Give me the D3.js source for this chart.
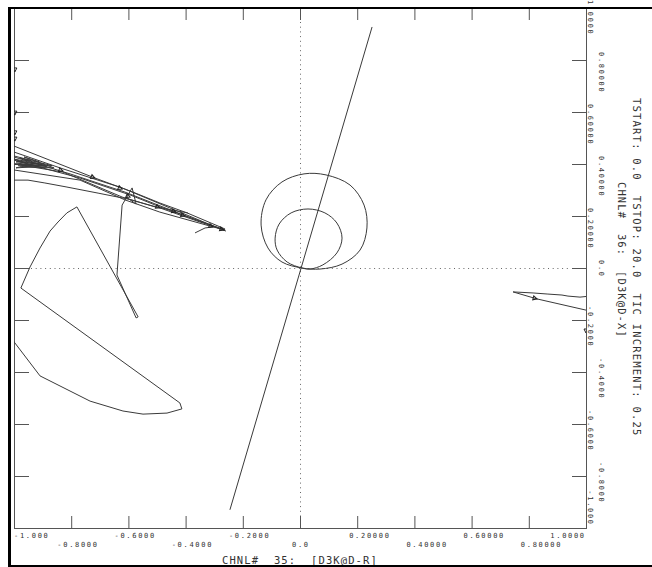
<!DOCTYPE html>
<html lang="en">
<head>
<meta charset="UTF-8">
<title>CHNL 35 vs CHNL 36</title>
<script src="https://d3js.org/d3.v7.min.js"></script>
<style>
    body { margin: 0; background: #fff; }
    text { font-family: "DejaVu Sans Mono", monospace; fill: #333; white-space: pre; }
</style>
</head>
<body>
<div id="chart"></div>
<script>
// tick values and their printed labels
var xTicks = [-1.0, -0.8, -0.6, -0.4, -0.2, 0.0, 0.2, 0.4, 0.6, 0.8, 1.0];
var xTickLabels = ["-1.000", "-0.8000", "-0.6000", "-0.4000", "-0.2000", "0.0",
                   "0.20000", "0.40000", "0.60000", "0.80000", "1.0000"];
var yTicks = [1.0, 0.8, 0.6, 0.4, 0.2, 0.0, -0.2, -0.4, -0.6, -0.8, -1.0];
var yTickLabels = ["1.0000", "0.80000", "0.60000", "0.40000", "0.20000", "0.0",
                   "-0.2000", "-0.4000", "-0.6000", "-0.8000", "-1.000"];

var xTitle = "CHNL#  35:  [D3K@D-R]";
var yTitle = "CHNL#  36:  [D3K@D-X]";
var runInfo = "TSTART: 0.0  TSTOP: 20.0  TIC INCREMENT: 0.25";

// traces, [x, y] in data units
var straightLine = [[-0.245, -0.930], [0.252, 0.927]];

var bigLoop = [[0.007, 0.0], [-0.063, 0.023], [-0.112, 0.077], [-0.136, 0.165], [-0.119, 0.262],
               [-0.063, 0.331], [0.014, 0.362], [0.091, 0.358], [0.175, 0.319], [0.224, 0.242],
               [0.234, 0.154], [0.210, 0.069], [0.147, 0.015], [0.070, -0.004]];

var smallLoop = [[0.007, 0.0], [-0.045, 0.023], [-0.080, 0.069], [-0.087, 0.115], [-0.073, 0.169],
                 [-0.031, 0.212], [0.028, 0.227], [0.087, 0.212], [0.129, 0.173], [0.147, 0.115],
                 [0.129, 0.058], [0.080, 0.012], [0.035, -0.004]];

var leftShape = [[-1.014, -0.262], [-0.997, -0.288], [-0.909, -0.415], [-0.734, -0.512],
                 [-0.619, -0.550], [-0.549, -0.562], [-0.465, -0.558], [-0.413, -0.542],
                 [-0.420, -0.519], [-0.976, -0.077], [-0.944, 0.004], [-0.909, 0.077],
                 [-0.874, 0.142], [-0.846, 0.177], [-0.815, 0.212], [-0.780, 0.235],
                 [-0.566, -0.188], [-0.573, -0.192], [-0.640, -0.027], [-0.622, 0.242],
                 [-0.587, 0.308], [-0.573, 0.246], [-0.608, 0.273]];

var bundle1 = [[-1.03, 0.48], [-1.0, 0.469], [-0.717, 0.346], [-0.584, 0.292], [-0.490, 0.250], [-0.395, 0.212], [-0.262, 0.150]];
var bundle2 = [[-1.03, 0.456], [-1.0, 0.446], [-0.839, 0.385], [-0.622, 0.308], [-0.455, 0.231], [-0.304, 0.162], [-0.266, 0.146]];
var bundle3 = [[-1.03, 0.436], [-1.0, 0.427], [-0.804, 0.362], [-0.612, 0.292], [-0.434, 0.215], [-0.259, 0.142]];
var bundle4 = [[-1.03, 0.424], [-1.0, 0.415], [-0.874, 0.377], [-0.769, 0.346], [-0.594, 0.281], [-0.490, 0.235], [-0.262, 0.146]];
var bundle5 = [[-1.03, 0.406], [-1.0, 0.400], [-0.829, 0.369], [-0.622, 0.273], [-0.507, 0.235], [-0.392, 0.212]];
var bundle6 = [[-1.03, 0.384], [-1.0, 0.377], [-0.769, 0.338], [-0.612, 0.262], [-0.490, 0.215], [-0.304, 0.158]];
var bundle7 = [[-1.03, 0.338], [-1.0, 0.338], [-0.951, 0.338], [-0.892, 0.327], [-0.818, 0.312], [-0.706, 0.288],
               [-0.601, 0.265], [-0.490, 0.231], [-0.350, 0.177], [-0.262, 0.146]];
var hook = [[-0.367, 0.135], [-0.332, 0.154], [-0.304, 0.158], [-0.262, 0.146]];
var scribble = [[-1.0, 0.431], [-0.944, 0.415], [-0.993, 0.408], [-0.902, 0.400], [-0.986, 0.396],
                [-0.885, 0.392], [-0.979, 0.423], [-0.867, 0.394], [-0.993, 0.385], [-0.930, 0.404],
                [-1.0, 0.419], [-0.958, 0.404], [-0.997, 0.400], [-0.920, 0.392], [-0.990, 0.412],
                [-0.895, 0.396], [-0.972, 0.389], [-0.860, 0.385], [-0.965, 0.427], [-0.910, 0.408]];

var rightShape = [[1.014, -0.108], [0.979, -0.112], [0.937, -0.108], [0.916, -0.104], [0.864, -0.100],
                  [0.815, -0.096], [0.745, -0.092], [0.829, -0.119], [1.0, -0.162], [1.021, -0.165]];

// arrowheads: x, y, direction (deg, screen)
var arrows = [[-0.717, 0.346, 22], [-0.829, 0.373, 18], [-0.622, 0.304, 22], [-0.594, 0.273, 22],
              [-0.490, 0.231, 22], [-0.434, 0.215, 20], [-0.304, 0.158, 20], [-0.266, 0.146, 18],
              [-0.402, 0.200, 20], [-0.997, 0.754, 90], [-0.997, 0.588, 90], [-0.997, 0.512, 90],
              [-0.997, 0.488, 90], [0.829, -0.119, 15], [1.0, -0.250, 90]];

var traces = [straightLine, bigLoop, smallLoop, leftShape, bundle1, bundle2, bundle3, bundle4,
              bundle5, bundle6, bundle7, hook, scribble, rightShape];
var closedTraces = [bigLoop, smallLoop];

var W = 652, H = 567;
var plotL = 14, plotR = 586, plotT = 8, plotB = 528;

var svg = d3.select("#chart").append("svg")
    .attr("width", W)
    .attr("height", H);

var x = d3.scaleLinear().domain([-1, 1]).range([plotL, plotR]);
var y = d3.scaleLinear().domain([-1, 1]).range([plotB, plotT]);

svg.append("clipPath").attr("id", "plotclip")
    .append("rect")
    .attr("x", plotL).attr("y", plotT)
    .attr("width", plotR - plotL).attr("height", plotB - plotT);

// zero lines, dotted
svg.append("line")
    .attr("x1", x(0) + 0.5).attr("x2", x(0) + 0.5)
    .attr("y1", plotT + 14).attr("y2", plotB - 12)
    .attr("stroke", "#666").attr("stroke-width", 1)
    .attr("stroke-dasharray", "1,3.7");
svg.append("line")
    .attr("x1", plotL + 17).attr("x2", plotR - 15)
    .attr("y1", y(0) + 0.5).attr("y2", y(0) + 0.5)
    .attr("stroke", "#666").attr("stroke-width", 1)
    .attr("stroke-dasharray", "1,3.7");

// axes: ticks pointing inward on all four sides
var axisColor = "#555";
svg.append("g").attr("transform", "translate(0," + plotB + ")")
    .call(d3.axisTop(x).tickValues(xTicks).tickSize(12).tickFormat(""));
svg.append("g").attr("transform", "translate(0," + plotT + ")")
    .call(d3.axisBottom(x).tickValues(xTicks).tickSize(12).tickFormat(""));
svg.append("g").attr("transform", "translate(" + plotL + ",0)")
    .call(d3.axisRight(y).tickValues(yTicks).tickSize(15).tickFormat(""));
svg.append("g").attr("transform", "translate(" + plotR + ",0)")
    .call(d3.axisLeft(y).tickValues(yTicks).tickSize(14).tickFormat(""));
svg.selectAll(".domain, .tick line")
    .attr("stroke", axisColor)
    .attr("stroke-width", 1);
svg.selectAll(".domain").remove();
svg.append("rect")
    .attr("x", plotL + 0.5).attr("y", plotT + 0.5)
    .attr("width", plotR - plotL).attr("height", plotB - plotT)
    .attr("fill", "none").attr("stroke", axisColor);

// traces
var plot = svg.append("g").attr("clip-path", "url(#plotclip)");
var line = d3.line()
    .x(function(d) { return x(d[0]); })
    .y(function(d) { return y(d[1]); });
var loop = d3.line()
    .x(function(d) { return x(d[0]); })
    .y(function(d) { return y(d[1]); })
    .curve(d3.curveCatmullRomClosed);

traces.forEach(function(t) {
    plot.append("path")
        .datum(t)
        .attr("d", closedTraces.indexOf(t) >= 0 ? loop : line)
        .attr("fill", "none")
        .attr("stroke", "#3a3a3a")
        .attr("stroke-width", 1);
});

plot.selectAll(".arrow")
    .data(arrows)
    .enter().append("path")
    .attr("class", "arrow")
    .attr("d", "M-4,-2L0,0L-4,2Z")
    .attr("transform", function(d) {
        return "translate(" + x(d[0]) + "," + y(d[1]) + ") rotate(" + d[2] + ")";
    })
    .attr("fill", "none")
    .attr("stroke", "#222")
    .attr("stroke-width", 1);

// tick labels, decimal point lined up with the tick, staggered in two rows
var pitch = 5.9, glyphW = 4.2;
function labelStart(pos, s, lo, hi) {
    var start = pos - (s.indexOf(".") * pitch + glyphW / 2);
    var len = (s.length - 1) * pitch + glyphW;
    if (start < lo) start = lo;
    if (start + len > hi) start = hi - len;
    return start;
}

svg.selectAll(".xlab")
    .data(xTicks)
    .enter().append("text")
    .attr("class", "xlab")
    .attr("x", function(d, i) { return labelStart(x(d), xTickLabels[i], plotL, plotR - 2); })
    .attr("y", function(d, i) { return i % 2 === 0 ? 538 : 547; })
    .style("font-size", "7px")
    .style("letter-spacing", "1.7px")
    .text(function(d, i) { return xTickLabels[i]; });

svg.selectAll(".ylab")
    .data(yTicks)
    .enter().append("text")
    .attr("class", "ylab")
    .attr("transform", function(d, i) {
        var s = labelStart(y(d), yTickLabels[i], -20, plotB - 4);
        return "translate(" + (i % 2 === 0 ? 588 : 599) + "," + s + ") rotate(90)";
    })
    .style("font-size", "7px")
    .style("letter-spacing", "1.7px")
    .text(function(d, i) { return yTickLabels[i]; });

// titles
svg.append("text")
    .attr("x", 222).attr("y", 564)
    .style("font-size", "10.5px")
    .style("letter-spacing", "1.1px")
    .text(xTitle);

svg.append("text")
    .attr("transform", "translate(618,182) rotate(90)")
    .style("font-size", "10.5px")
    .style("letter-spacing", "1.1px")
    .text(yTitle);

svg.append("text")
    .attr("transform", "translate(633,98) rotate(90)")
    .style("font-size", "10.5px")
    .style("letter-spacing", "1.2px")
    .text(runInfo);

// outer frame
svg.append("line").attr("x1", 9.5).attr("x2", 9.5).attr("y1", 7).attr("y2", 567)
    .attr("stroke", "#000").attr("stroke-width", 3);
svg.append("line").attr("x1", 8).attr("x2", W).attr("y1", 8).attr("y2", 8)
    .attr("stroke", "#000").attr("stroke-width", 2);
svg.append("line").attr("x1", 8).attr("x2", W).attr("y1", 566).attr("y2", 566)
    .attr("stroke", "#000").attr("stroke-width", 2);
</script>
</body>
</html>
